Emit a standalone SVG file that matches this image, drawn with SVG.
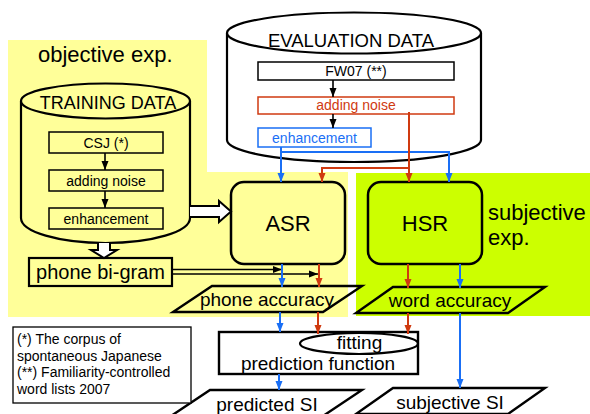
<svg xmlns="http://www.w3.org/2000/svg" width="590" height="414" viewBox="0 0 590 414">
  <style>
    text { font-family: "Liberation Sans", Arial, sans-serif; fill: #000; }
    .c { text-anchor: middle; }
    .stroke { stroke: #000; stroke-width: 2.2; }
    .box { stroke: #000; stroke-width: 1.5; }
    .blk { stroke: #000; stroke-width: 1.6; fill: none; }
    .red { stroke: #d03a10; stroke-width: 2; fill: none; }
    .blue { stroke: #1a6ff5; stroke-width: 2; fill: none; }
    .para { fill: none; stroke: #000; stroke-width: 2.4; stroke-linejoin: miter; }
  </style>
  <defs>
    <marker id="ah-k" markerUnits="userSpaceOnUse" markerWidth="10" markerHeight="8" refX="9" refY="4" orient="auto">
      <path d="M0,0.5 L9,4 L0,7.5 z" fill="#000"/>
    </marker>
    <marker id="ah-r" markerUnits="userSpaceOnUse" markerWidth="10" markerHeight="8" refX="9" refY="4" orient="auto">
      <path d="M0,0.5 L9,4 L0,7.5 z" fill="#d03a10"/>
    </marker>
    <marker id="ah-b" markerUnits="userSpaceOnUse" markerWidth="10" markerHeight="8" refX="9" refY="4" orient="auto">
      <path d="M0,0.5 L9,4 L0,7.5 z" fill="#1a6ff5"/>
    </marker>
  </defs>

  <rect width="590" height="414" fill="#fff"/>

  <!-- experiment regions -->
  <g id="region-objective">
    <path d="M8,40 H207 V172 H348 V317 H8 z" fill="#ffff99"/>
    <text x="38" y="62" font-size="22">objective exp.</text>
  </g>
  <g id="region-subjective">
    <rect x="356" y="173" width="234" height="143" fill="#ccff00"/>
    <text x="488" y="220" font-size="22">subjective</text>
    <text x="488" y="245" font-size="22">exp.</text>
  </g>

  <!-- training data store -->
  <g id="training-data">
    <path d="M21,101 V218 A84.5,25 0 0 0 190,218 V101" fill="#ffff99" class="stroke"/>
    <ellipse cx="105.5" cy="101" rx="84.5" ry="17.5" fill="#ffff99" class="stroke"/>
    <text x="108" y="109" font-size="18" class="c">TRAINING DATA</text>
    <g id="train-csj">
      <rect x="49" y="132" width="114" height="21" fill="#ffff99" class="box"/>
      <text x="106" y="148" font-size="14" class="c">CSJ (*)</text>
    </g>
    <g id="train-noise">
      <rect x="49" y="170" width="114" height="21" fill="#ffff99" class="box"/>
      <text x="106" y="186" font-size="14" class="c">adding noise</text>
    </g>
    <g id="train-enh">
      <rect x="49" y="208" width="114" height="21" fill="#ffff99" class="box"/>
      <text x="106" y="224" font-size="14" class="c">enhancement</text>
    </g>
  </g>

  <!-- evaluation data store -->
  <g id="evaluation-data">
    <path d="M227,33 V140 A127,22 0 0 0 481,140 V33" fill="#fff" class="stroke"/>
    <ellipse cx="354" cy="33" rx="127" ry="20.5" fill="#fff" class="stroke"/>
    <text x="351" y="47" font-size="18.5" class="c">EVALUATION DATA</text>
    <g id="eval-fw07">
      <rect x="258" y="62" width="196" height="18" fill="#fff" class="box"/>
      <text x="356" y="76" font-size="14" class="c">FW07 (**)</text>
    </g>
    <g id="eval-noise">
      <rect x="258" y="97" width="196" height="17" fill="#fff" stroke="#d03a10" stroke-width="1.5"/>
      <text x="356" y="110" font-size="14" class="c" style="fill:#d03a10">adding noise</text>
    </g>
    <g id="eval-enh">
      <rect x="258" y="128" width="113" height="19" fill="#fff" stroke="#1a6ff5" stroke-width="1.5"/>
      <text x="314.5" y="143" font-size="14" class="c" style="fill:#1a6ff5">enhancement</text>
    </g>
  </g>

  <!-- recognisers -->
  <g id="asr">
    <rect x="231" y="182" width="114" height="82" rx="13" fill="#ffff99" stroke="#000" stroke-width="2.5"/>
    <text x="288" y="231" font-size="22" class="c">ASR</text>
  </g>
  <g id="hsr">
    <rect x="368" y="182" width="114" height="82" rx="13" fill="#ccff00" stroke="#000" stroke-width="2.5"/>
    <text x="425" y="231" font-size="22" class="c">HSR</text>
  </g>

  <g id="phone-bigram">
    <rect x="29" y="258" width="143" height="28" fill="#ffff99" stroke="#000" stroke-width="2.2"/>
    <text x="100.5" y="279" font-size="20" class="c">phone bi-gram</text>
  </g>

  <g id="phone-accuracy">
    <path d="M212,286 H362 L323,312 H173 z" class="para"/>
    <text x="267" y="306" font-size="19" class="c">phone accuracy</text>
  </g>
  <g id="word-accuracy">
    <path d="M393,287 H545 L508,313 H356 z" class="para"/>
    <text x="450" y="307" font-size="19" class="c">word accuracy</text>
  </g>

  <g id="prediction-function">
    <rect x="219" y="332" width="199" height="42" fill="#fff" stroke="#000" stroke-width="2.4"/>
    <ellipse cx="359" cy="343.5" rx="59" ry="10.5" fill="none" stroke="#000" stroke-width="2.2"/>
    <text x="359.5" y="349" font-size="19" class="c">fitting</text>
    <text x="318" y="370" font-size="19" class="c">prediction function</text>
  </g>

  <g id="predicted-si">
    <path d="M210,390 H362 L323,416 H171 z" class="para"/>
    <text x="267" y="411" font-size="19" class="c">predicted SI</text>
  </g>
  <g id="subjective-si">
    <path d="M393,388 H545 L508,414 H356 z" class="para"/>
    <text x="450" y="409" font-size="19" class="c">subjective SI</text>
  </g>

  <g id="footnote">
    <rect x="13" y="327" width="178" height="76" fill="#fff" stroke="#000" stroke-width="1.3"/>
    <text x="17" y="344" font-size="14">(*)  The corpus of</text>
    <text x="17" y="360.5" font-size="14">spontaneous Japanese</text>
    <text x="17" y="377" font-size="14">(**) Familiarity-controlled</text>
    <text x="17" y="393.5" font-size="14">word lists 2007</text>
  </g>

  <!-- connectors -->
  <g id="connectors">
    <!-- inside the stores -->
    <path d="M105,153 V170" class="blk" marker-end="url(#ah-k)"/>
    <path d="M105,191 V208" class="blk" marker-end="url(#ah-k)"/>
    <path d="M333,80 V97" class="blk" marker-end="url(#ah-k)"/>
    <path d="M333,114 V128" class="blk" marker-end="url(#ah-k)"/>

    <!-- hollow block arrows -->
    <path d="M190,206 H219 V201 L231,211.5 L219,222 V217 H190" fill="#fff" stroke="#000" stroke-width="2"/>
    <path d="M98,243 V250 H91 L104,258 L117,250 H110 V243" fill="#fff" stroke="#000" stroke-width="2"/>

    <!-- phone bi-gram to ASR outputs -->
    <path d="M172,269.5 H282" class="blk" marker-end="url(#ah-k)"/>
    <path d="M172,274 H318" class="blk" marker-end="url(#ah-k)"/>

    <!-- enhanced speech -->
    <path d="M281,147 V182" class="blue" marker-end="url(#ah-b)"/>
    <path d="M281,152 H449 V182" class="blue" marker-end="url(#ah-b)"/>
    <!-- noisy speech -->
    <path d="M409,112 V182" class="red" marker-end="url(#ah-r)"/>
    <path d="M409,168 H322 V182" class="red" marker-end="url(#ah-r)"/>

    <!-- recogniser outputs -->
    <path d="M282,264 V287" class="blue" marker-end="url(#ah-b)"/>
    <path d="M319,264 V287" class="red" marker-end="url(#ah-r)"/>
    <path d="M408,264 V288" class="red" marker-end="url(#ah-r)"/>
    <path d="M460,264 V288" class="blue" marker-end="url(#ah-b)"/>

    <!-- accuracies to fitting -->
    <path d="M280,312 V332" class="blue" marker-end="url(#ah-b)"/>
    <path d="M318,312 V334" class="red" marker-end="url(#ah-r)"/>
    <path d="M408,313 V334" class="red" marker-end="url(#ah-r)"/>
    <path d="M460,313 V388" class="blue" marker-end="url(#ah-b)"/>

    <!-- prediction output -->
    <path d="M279,374 V390" class="blue" marker-end="url(#ah-b)"/>
  </g>
</svg>
